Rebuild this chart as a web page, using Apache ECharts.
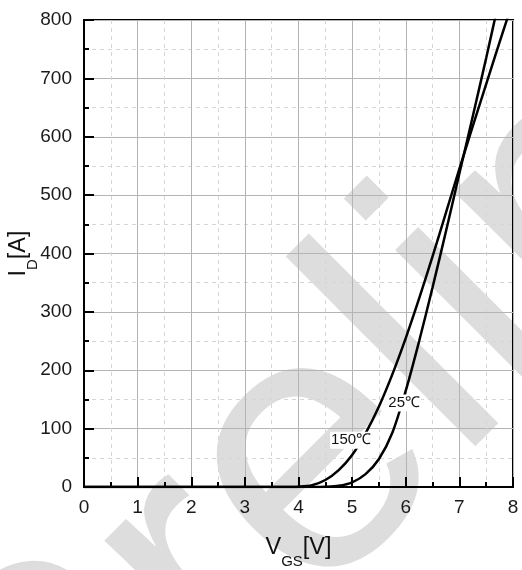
<!DOCTYPE html>
<html>
<head>
<meta charset="utf-8">
<script src="https://cdn.jsdelivr.net/npm/echarts@6/dist/echarts.min.js"></script>
<style>
  html, body { margin: 0; padding: 0; background: #fff; }
  #chart { width: 522px; height: 570px; }
</style>
</head>
<body>
<div id="chart"></div>
<script>
// Transfer characteristic: drain current vs gate-source voltage at two temperatures.
const vgs   = [0, 3.5, 3.75, 4.0, 4.25, 4.5, 4.75, 5.0, 5.25, 5.5, 5.75, 6.0, 6.25, 6.5, 6.75, 7.0, 7.25, 7.5, 7.75, 8.0];
const id25  = [0, 0, 0, 0, 0, 0.3, 2, 8, 22, 48, 93, 165, 250, 342, 438, 537, 635, 735, 838, 940];
const id150 = [0, 0, 0, 0.5, 3, 12, 29, 55, 92, 138, 193, 255, 323, 395, 470, 545, 618, 690, 762, 832];
const seriesNames = ['25℃', '150℃'];
const seriesValues = [id25, id150];
const labelAt = [[5.97, 144], [4.98, 80]];   // where each temperature tag sits (V, A)
const xTicks = [0, 1, 2, 3, 4, 5, 6, 7, 8];
const yTicks = [0, 100, 200, 300, 400, 500, 600, 700, 800];
const xTitle = ['V', 'GS', '[V]'];
const yTitle = ['I', 'D', '[A]'];
const watermarkText = 'Preliminary';

const FONT = '"Liberation Sans", Arial, sans-serif';
const mctx = document.createElement('canvas').getContext('2d');
function textWidth(t, size) { mctx.font = size + 'px ' + FONT; return mctx.measureText(t).width; }

// Title with a subscript: [main, sub, main] laid out along a baseline.
function titleGroup(parts, cx, cy, rotation) {
  const big = 23.5, small = 15;
  const w = [textWidth(parts[0], big), textWidth(parts[1], small), textWidth(parts[2], big)];
  const total = w[0] + w[1] + w[2];
  let x0 = -total / 2;
  const mk = (text, x, y, size) => ({
    type: 'text', x: x, y: y, silent: true,
    style: { text: text, font: size + 'px ' + FONT, fill: '#111', align: 'left', verticalAlign: 'middle',
             textAlign: 'left', textVerticalAlign: 'middle' }
  });
  return {
    type: 'group', x: cx, y: cy, rotation: rotation, silent: true,
    children: [
      mk(parts[0], x0, 0, big),
      mk(parts[1], x0 + w[0], 14.5, small),
      mk(parts[2], x0 + w[0] + w[1], 0, big)
    ]
  };
}

// Large diagonal watermark, lying under the grid.
function watermark() {
  const S = 370, th = Math.PI / 4;
  const d = textWidth('Pre', S) + 0.11 * S - 6;      // distance to the stem of "l"
  const px = 470, py = 427;                           // baseline point of that stem
  const ox = px - d * Math.cos(th), oy = py + d * Math.sin(th);
  const up = 0.31 * S - 30;
  return {
    type: 'text', x: ox - up * Math.sin(th), y: oy - up * Math.cos(th), rotation: th, z: -10, silent: true,
    style: { text: watermarkText, font: S + 'px ' + FONT, fill: '#dddddd', align: 'left', verticalAlign: 'middle',
             textAlign: 'left', textVerticalAlign: 'middle' }
  };
}

const chart = echarts.init(document.getElementById('chart'), null, { renderer: 'canvas' });

const axisCommon = {
  type: 'value',
  axisLine: { show: true, onZero: false, lineStyle: { color: '#000', width: 2 } },
  axisTick: { show: true, inside: true, length: 10, lineStyle: { color: '#000', width: 2 } },
  minorTick: { show: true, splitNumber: 2, length: 5, lineStyle: { color: '#000', width: 2 } },
  splitLine: { show: true, lineStyle: { color: '#b4b4b4', width: 1 } },
  minorSplitLine: { show: true, lineStyle: { color: '#d6d6d6', width: 1, type: [4, 4] } },
  axisLabel: { color: '#1a1a1a', fontSize: 19, fontFamily: FONT }
};

chart.setOption({
  animation: false,
  backgroundColor: '#fff',
  grid: { left: 84, right: 9, top: 20, bottom: 83, show: true, borderColor: '#000', borderWidth: 2, backgroundColor: 'transparent' },
  xAxis: Object.assign({}, axisCommon, {
    min: xTicks[0], max: xTicks[xTicks.length - 1], interval: xTicks[1] - xTicks[0],
    axisLabel: Object.assign({}, axisCommon.axisLabel, { margin: 11 })
  }),
  yAxis: Object.assign({}, axisCommon, {
    min: yTicks[0], max: yTicks[yTicks.length - 1], interval: yTicks[1] - yTicks[0],
    axisLabel: Object.assign({}, axisCommon.axisLabel, { margin: 12 })
  }),
  graphic: [
    watermark(),
    titleGroup(xTitle, 298.5, 547.5, 0),
    titleGroup(yTitle, 18.5, 253.5, Math.PI / 2)
  ],
  series: seriesNames.map((name, k) => ({
    type: 'line',
    name: name,
    data: vgs.map((v, i) => [v, seriesValues[k][i]]),
    smooth: 0.3,
    symbol: 'none',
    clip: true,
    lineStyle: { color: '#000', width: 2.5 },
    z: 3,
    markPoint: {
      symbol: 'circle', symbolSize: 1, itemStyle: { color: 'rgba(0,0,0,0)' },
      data: [{ coord: labelAt[k] }],
      label: {
        show: true, position: 'inside', formatter: name, color: '#111', fontSize: 15, fontFamily: FONT,
        backgroundColor: '#fff', padding: [1, 1]
      }
    }
  }))
});
</script>
</body>
</html>
